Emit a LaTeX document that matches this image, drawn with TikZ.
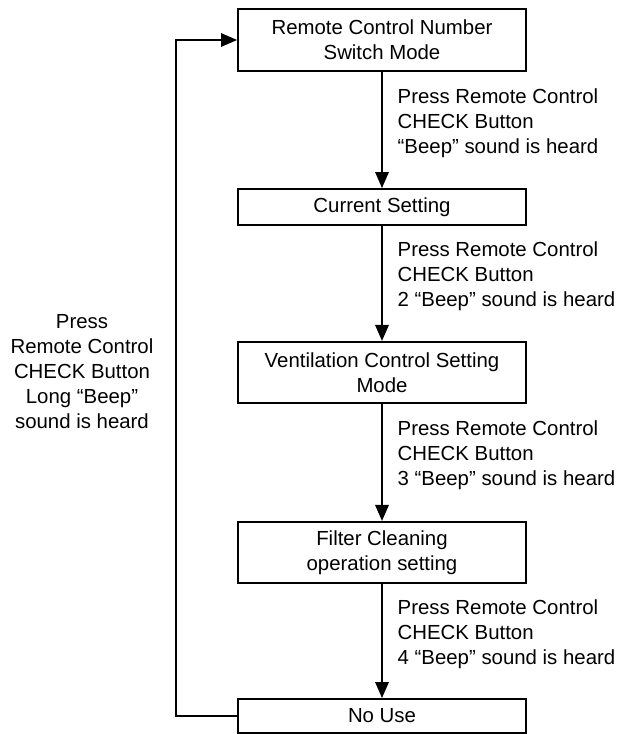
\documentclass[tikz,border=0pt]{standalone}
\usepackage{fontspec}
\setmainfont{Liberation Sans}
\usetikzlibrary{positioning,arrows.meta}

\begin{document}
\begin{tikzpicture}[
  box/.style={
    rectangle, draw, line width=1.4pt, minimum width=7.2cm,
    inner sep=2pt, align=center, font=\fontsize{14.5}{17.8}\selectfont
  },
  arr/.style={-{Triangle[length=0.4cm,width=0.34cm]}, line width=1pt},
  lbl/.style={right, inner sep=0pt, xshift=0.375cm, yshift=0.175cm,
    align=left, font=\fontsize{14.5}{17.8}\selectfont}
]
\useasboundingbox (0,0) rectangle (15.45,-18.35);

% Boxes
\node[box, minimum height=1.55cm] (b1) at (9.55,-1.0)
  {Remote Control Number\\Switch Mode};
\node[box, minimum height=0.9cm] (b2) at (9.55,-5.175) {Current Setting};
\node[box, minimum height=1.525cm] (b3) at (9.55,-9.31)
  {Ventilation Control Setting\\Mode};
\node[box, minimum height=1.525cm] (b4) at (9.55,-13.81)
  {Filter Cleaning\\operation setting};
\node[box, minimum height=0.85cm] (b5) at (9.55,-17.9) {No Use};

% Steps
\draw[arr] (b1) -- node[lbl] {Press Remote Control\\CHECK Button\\“Beep” sound is heard} (b2);
\draw[arr] (b2) -- node[lbl] {Press Remote Control\\CHECK Button\\2 “Beep” sound is heard} (b3);
\draw[arr] (b3) -- node[lbl] {Press Remote Control\\CHECK Button\\3 “Beep” sound is heard} (b4);
\draw[arr] (b4) -- node[lbl] {Press Remote Control\\CHECK Button\\4 “Beep” sound is heard} (b5);

% Back to the first mode
\coordinate (lp) at (4.4,0);
\draw[arr] (b5.west) -- (b5.west -| lp) |- (b1.west);
\node[align=center, font=\fontsize{14.5}{17.8}\selectfont] (back) at (2.05,-9.3)
  {Press\\Remote Control\\CHECK Button\\Long “Beep”\\sound is heard};

\end{tikzpicture}
\end{document}
